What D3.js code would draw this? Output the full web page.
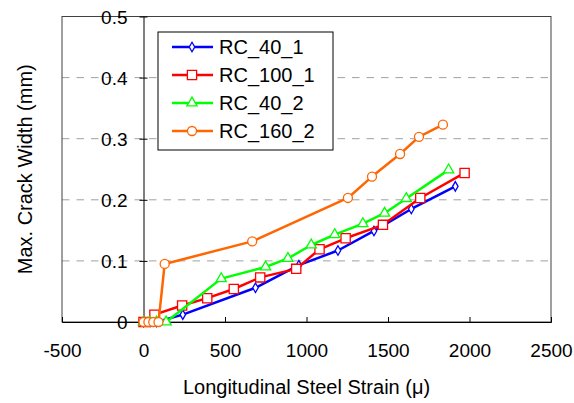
<!DOCTYPE html>
<html>
<head>
<meta charset="utf-8">
<script src="https://cdn.jsdelivr.net/npm/d3@7"></script>
<style>
  body { margin: 0; background: #fff; }
  text { font-family: "Liberation Sans", Arial, sans-serif; fill: #000; }
</style>
</head>
<body>
<div id="chart"></div>
<script>
// strain (micro) vs max crack width (mm)
const rc40_1 = [[0, 0], [40, 0], [80, 0], [241, 0.012], [687, 0.056], [953, 0.093],
  [1193, 0.117], [1414, 0.149], [1643, 0.185], [1913, 0.222]];
const rc100_1 = [[0, 0], [67, 0.012], [237, 0.027], [391, 0.039], [554, 0.054], [716, 0.073],
  [937, 0.087], [1080, 0.119], [1240, 0.137], [1469, 0.159], [1698, 0.203], [1970, 0.244]];
const rc40_2 = [[0, 0], [40, 0], [80, 0], [139, 0], [477, 0.071], [749, 0.090], [886, 0.104],
  [1029, 0.126], [1173, 0.143], [1346, 0.161], [1479, 0.178], [1612, 0.202], [1872, 0.249]];
const rc160_2 = [[0, 0], [30, 0], [60, 0], [92, 0], [130, 0.095], [667, 0.132], [1254, 0.203],
  [1402, 0.238], [1574, 0.275], [1690, 0.303], [1837, 0.323]];

const seriesNames = ["RC_40_1", "RC_100_1", "RC_40_2", "RC_160_2"];
const seriesData = [rc40_1, rc100_1, rc40_2, rc160_2];
const seriesColors = ["#0000ff", "#ff0000", "#00ff00", "#ff6600"];
const seriesSymbols = [d3.symbolDiamond, d3.symbolSquare, d3.symbolTriangle, d3.symbolCircle];
const symbolSizes = [26, 85, 45, 64];

const xTicks = [-500, 0, 500, 1000, 1500, 2000, 2500];
const yTicks = [0, 0.1, 0.2, 0.3, 0.4, 0.5];

const width = 574, height = 403;
const plot = { left: 62, right: 551, top: 16.5, bottom: 322 };

const svg = d3.select("#chart").append("svg")
    .attr("width", width)
    .attr("height", height);

svg.append("rect").attr("width", width).attr("height", height).attr("fill", "#fff");

const x = d3.scaleLinear().domain([-500, 2500]).range([plot.left, plot.right]);
const y = d3.scaleLinear().domain([0, 0.5]).range([plot.bottom, plot.top]);

// gridlines
svg.append("g")
    .selectAll("line")
    .data(yTicks.filter(d => d > 0 && d < 0.5))
    .join("line")
    .attr("x1", plot.left).attr("x2", plot.right)
    .attr("y1", d => y(d)).attr("y2", d => y(d))
    .attr("stroke", "#a0a0a0")
    .attr("stroke-width", 1)
    .attr("stroke-dasharray", "7.5,7");

// frame
svg.append("rect")
    .attr("x", plot.left).attr("y", plot.top)
    .attr("width", plot.right - plot.left).attr("height", plot.bottom - plot.top)
    .attr("fill", "none")
    .attr("stroke", "#404040")
    .attr("stroke-width", 1);

// x axis at y = 0 (plain hyphen for negatives, like the source)
const xAxis = d3.axisBottom(x).tickValues(xTicks).tickSize(-5).tickPadding(0).tickFormat(d => String(d));
const gx = svg.append("g").attr("transform", `translate(0,${y(0)})`).call(xAxis);
gx.select(".domain").attr("stroke", "#000");
gx.selectAll(".tick line").attr("stroke", "#000");
gx.selectAll(".tick text")
    .attr("y", 35)
    .attr("dy", 0)
    .style("font-size", "19px")
    .style("font-family", "Liberation Sans, Arial, sans-serif");

// y axis at x = 0
const yAxis = d3.axisLeft(y).tickValues(yTicks).tickSize(0).tickFormat(d => d === 0 ? "0" : d.toFixed(1));
const gy = svg.append("g").attr("transform", `translate(${x(0)},0)`).call(yAxis);
gy.select(".domain").attr("stroke", "#000");
gy.selectAll(".tick text")
    .attr("x", -16)
    .attr("dy", "0.35em")
    .style("font-size", "19px")
    .style("font-family", "Liberation Sans, Arial, sans-serif");
gy.selectAll(".tick").append("line")
    .attr("x1", -4).attr("x2", 4)
    .attr("stroke", "#000");

// series
const line = d3.line().x(d => x(d[0])).y(d => y(d[1]));

seriesData.forEach((data, i) => {
    const g = svg.append("g");
    g.append("path")
        .datum(data)
        .attr("d", line)
        .attr("fill", "none")
        .attr("stroke", seriesColors[i])
        .attr("stroke-width", 2.5)
        .attr("stroke-linejoin", "round");
    g.selectAll("path.marker")
        .data(data)
        .join("path")
        .attr("class", "marker")
        .attr("transform", d => `translate(${x(d[0])},${y(d[1])})`)
        .attr("d", d3.symbol().type(seriesSymbols[i]).size(symbolSizes[i]))
        .attr("fill", "#fff")
        .attr("stroke", seriesColors[i])
        .attr("stroke-width", 1.3);
});

// legend
const legend = svg.append("g").attr("transform", "translate(158,32)");
legend.append("rect")
    .attr("width", 175).attr("height", 118)
    .attr("fill", "#fff")
    .attr("stroke", "#000")
    .attr("stroke-width", 1);

const item = legend.selectAll("g.item")
    .data(seriesNames)
    .join("g")
    .attr("class", "item")
    .attr("transform", (d, i) => `translate(0,${15 + i * 28})`);

item.append("line")
    .attr("x1", 14).attr("x2", 55)
    .attr("stroke", (d, i) => seriesColors[i])
    .attr("stroke-width", 2.5);

item.append("path")
    .attr("transform", "translate(34,0)")
    .attr("d", (d, i) => d3.symbol().type(seriesSymbols[i]).size(symbolSizes[i])())
    .attr("fill", "#fff")
    .attr("stroke", (d, i) => seriesColors[i])
    .attr("stroke-width", 1.3);

item.append("text")
    .attr("x", 61)
    .attr("dy", "0.35em")
    .style("font-size", "20px")
    .text(d => d);

// axis titles
svg.append("text")
    .attr("x", (plot.left + plot.right) / 2)
    .attr("y", 394)
    .attr("text-anchor", "middle")
    .style("font-size", "20px")
    .text("Longitudinal Steel Strain (\u03bc)");

svg.append("text")
    .attr("transform", `translate(32,${(plot.top + plot.bottom) / 2}) rotate(-90)`)
    .attr("text-anchor", "middle")
    .style("font-size", "20px")
    .text("Max. Crack Width (mm)");
</script>
</body>
</html>
